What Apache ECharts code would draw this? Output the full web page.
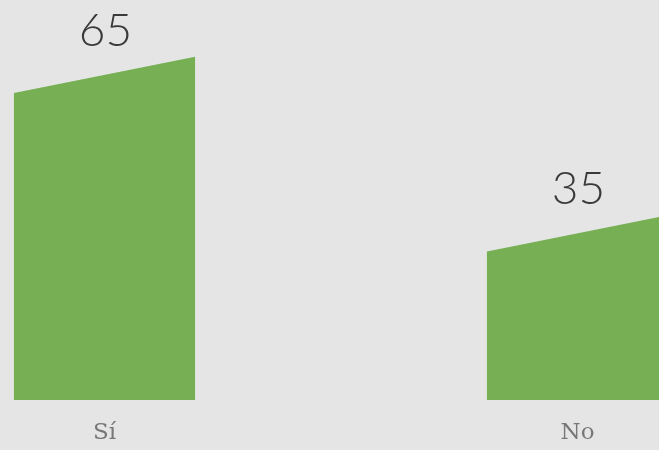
<!DOCTYPE html>
<html><head><meta charset="utf-8">
<script src="https://cdn.jsdelivr.net/npm/echarts@6/dist/echarts.min.js"></script>
<style>html,body{margin:0;padding:0;background:#e5e5e5}#c{width:659px;height:450px}</style>
</head><body><div id="c"></div>
<script>
const categories = ['Sí', 'No'];
const values = [65, 35];

const chart = echarts.init(document.getElementById('c'));
chart.setOption({
  backgroundColor: '#e5e5e5',
  animation: false,
  grid: { left: -132, width: 946, top: -128, bottom: 50, outerBoundsMode: 'none', containLabel: false },
  xAxis: {
    type: 'category', data: categories,
    axisLine: { show: false }, axisTick: { show: false }, splitLine: { show: false },
    axisLabel: { margin: 22, fontFamily: 'DejaVu Serif', fontSize: 23, color: '#777' }
  },
  yAxis: { type: 'value', min: 0, max: 100, show: false },
  series: [{
    type: 'custom',
    data: values,
    renderItem: function (params, api) {
      const idx = params.dataIndex;
      const val = api.value(0);
      const top = api.coord([idx, val]);
      const base = api.coord([idx, 0]);
      const bw = api.size([1, 0])[0] * 0.383;
      const x0 = top[0] - bw / 2, x1 = top[0] + bw / 2;
      const slant = bw * 0.2;
      return {
        type: 'group',
        children: [{
          type: 'polygon',
          shape: { points: [[x0, base[1]], [x1, base[1]], [x1, top[1]], [x0, top[1] + slant]] },
          style: { fill: '#77b054' }
        }, {
          type: 'text',
          style: {
            text: String(val), x: top[0] + 1, y: top[1] - 3,
            textAlign: 'center', textVerticalAlign: 'bottom',
            fontFamily: 'Lato', fontWeight: 300, fontSize: 46, fill: '#3a3a3a'
          }
        }]
      };
    },
    encode: { x: -1, y: 0 }
  }]
});
</script></body></html>
